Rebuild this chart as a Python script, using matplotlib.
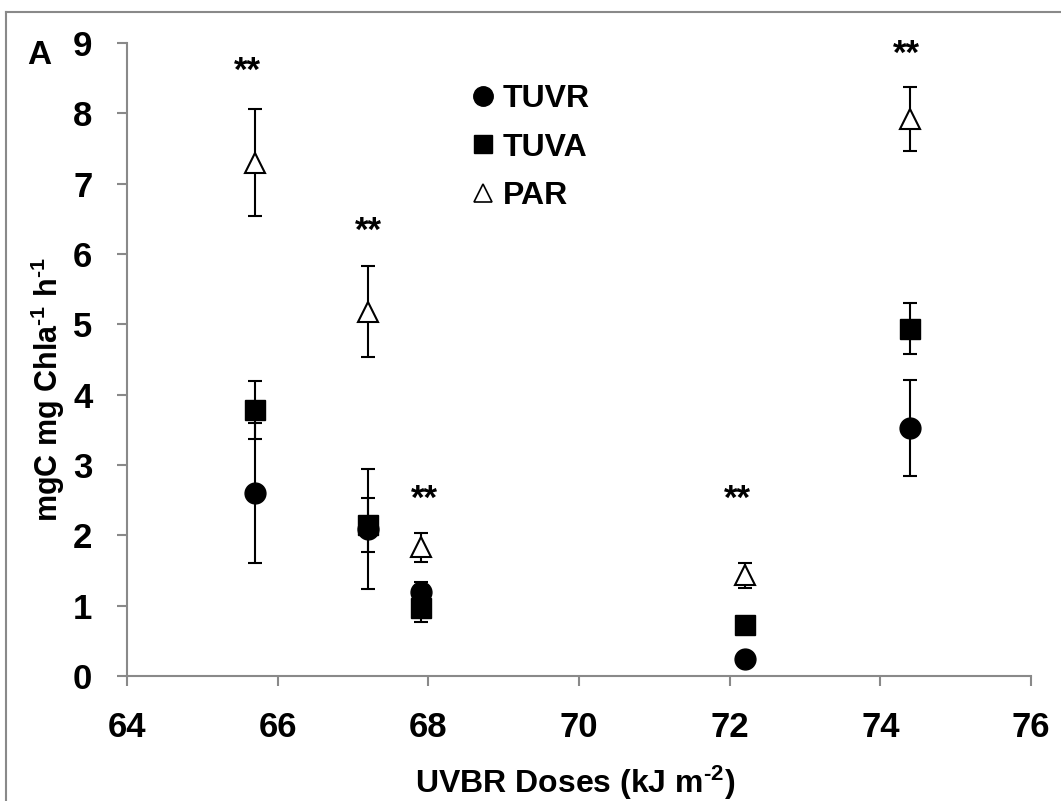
import matplotlib
matplotlib.use("Agg")
import matplotlib.pyplot as plt
from matplotlib.lines import Line2D

# ---- data ----
doses = [65.7, 67.2, 67.9, 72.2, 74.4]
tuvr = [2.60, 2.09, 1.19, 0.24, 3.53]
tuvr_err = [1.00, 0.86, 0.15, 0.04, 0.68]
tuva = [3.78, 2.15, 0.96, 0.725, 4.94]
tuva_err = [0.41, 0.38, 0.19, 0.04, 0.36]
par = [7.30, 5.18, 1.83, 1.43, 7.92]
par_err = [0.76, 0.65, 0.21, 0.18, 0.46]
star_x = [65.6, 67.2, 67.95, 72.1, 74.35]
star_y = [8.46, 6.19, 2.37, 2.37, 8.70]
xticks = [64, 66, 68, 70, 72, 74, 76]
yticks = [0, 1, 2, 3, 4, 5, 6, 7, 8, 9]

plt.rcParams['font.family'] = ['Liberation Sans', 'DejaVu Sans']
plt.rcParams['font.weight'] = 'bold'
plt.rcParams['mathtext.fontset'] = 'custom'
plt.rcParams['mathtext.rm'] = 'Liberation Sans:bold'
plt.rcParams['mathtext.bf'] = 'Liberation Sans:bold'
plt.rcParams['mathtext.it'] = 'Liberation Sans:bold'

W, H = 1061, 801
fig = plt.figure(figsize=(W / 100, H / 100), dpi=100)
ax = fig.add_axes([127 / W, 1 - 676 / H, 904 / W, 633 / H])

gray = '#898989'
for s in ['top', 'right']:
    ax.spines[s].set_visible(False)
for s in ['left', 'bottom']:
    ax.spines[s].set_color(gray)
    ax.spines[s].set_linewidth(1.5)

ax.set_xlim(64, 76)
ax.set_ylim(0, 9)
ax.set_xticks(xticks)
ax.set_yticks(yticks)
ax.tick_params(axis='both', direction='out', length=7, width=1.5, color=gray,
               labelsize=25, pad=18, labelcolor='black')
for lab in ax.get_xticklabels() + ax.get_yticklabels():
    lab.set_fontweight('bold')

eb_kw = dict(fmt='none', ecolor='black', elinewidth=1.5, capsize=4.7, capthick=1.5, zorder=2)
ax.errorbar(doses, tuvr, yerr=tuvr_err, **eb_kw)
ax.errorbar(doses, tuva, yerr=tuva_err, **eb_kw)
ax.errorbar(doses, par, yerr=par_err, **eb_kw)

ax.plot(doses, tuvr, linestyle='none', marker='o', ms=15, mfc='black', mec='black', zorder=3)
ax.plot(doses, tuva, linestyle='none', marker='s', ms=15, mfc='black', mec='black', zorder=3)
ax.plot(doses, par, linestyle='none', marker='^', ms=14, mfc='white', mec='black', mew=1.5, zorder=4)

for sx, sy in zip(star_x, star_y):
    ax.text(sx, sy, '**', ha='center', va='baseline', fontsize=25, fontweight='bold')

handles = [
    Line2D([], [], linestyle='none', marker='o', ms=14, mfc='black', mec='black'),
    Line2D([], [], linestyle='none', marker='s', ms=13, mfc='black', mec='black'),
    Line2D([], [], linestyle='none', marker='^', ms=13, mfc='white', mec='black', mew=1.2),
]
ax.legend(handles, ['TUVR', 'TUVA', 'PAR'], loc='upper left',
          bbox_to_anchor=(467 / W, 1 - 84 / H), bbox_transform=fig.transFigure,
          frameon=False, borderpad=0, borderaxespad=0, handlelength=1.0,
          handletextpad=0.125, labelspacing=0.58, prop={'size': 23, 'weight': 'bold'})

ax.set_xlabel(r'UVBR Doses (kJ m$^{\text{-2}}$)', fontsize=23, fontweight='bold')
ax.xaxis.set_label_coords((575 - 127) / 904, (676 - 793) / 633)
ax.xaxis.label.set_va('baseline')

ax.set_ylabel(r'mgC mg Chla$^{\text{-1}}$ h$^{\text{-1}}$', fontsize=22, fontweight='bold')
ax.yaxis.set_label_coords((48 - 127) / 904, (676 - 390) / 633)
ax.yaxis.label.set_va('center')

fig.text(39 / W, 1 - 56 / H, 'A', ha='center', va='center', fontsize=24, fontweight='bold')

# outer frame (left and top edges visible)
fig.add_artist(Line2D([6 / W, 6 / W], [0, 1 - 12 / H], transform=fig.transFigure, color=gray, lw=1.5))
fig.add_artist(Line2D([6 / W, 1], [1 - 12 / H, 1 - 12 / H], transform=fig.transFigure, color=gray, lw=1.5))

fig.savefig('out.png', dpi=100)
